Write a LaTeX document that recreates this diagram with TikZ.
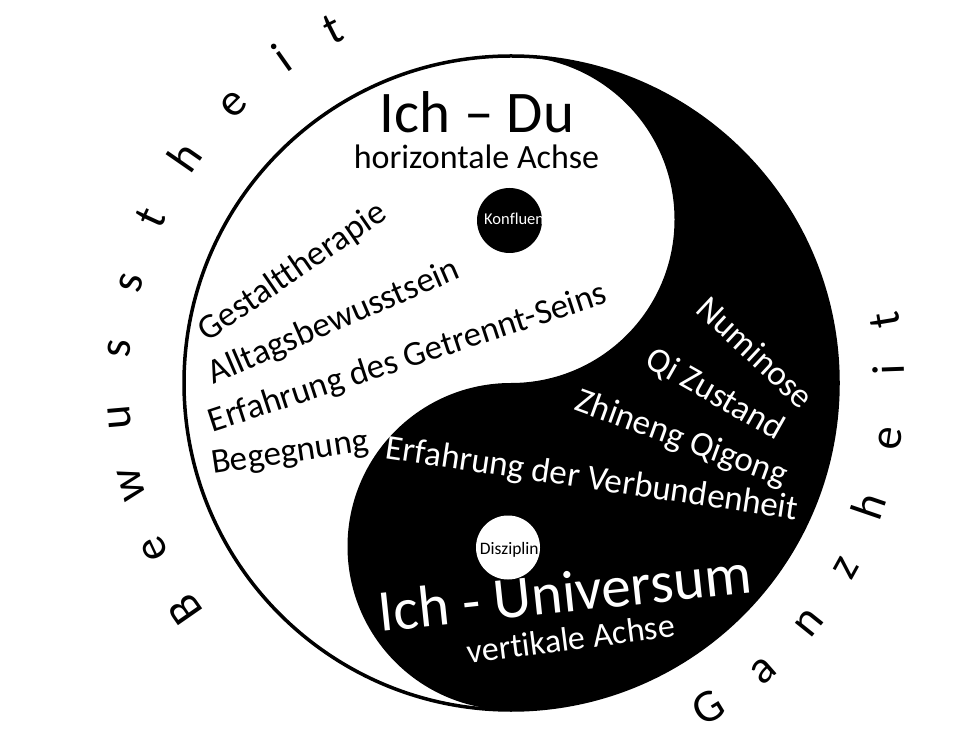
\documentclass[tikz,border=0pt]{standalone}
\usepackage{fontspec}
\setmainfont{Carlito}[Ligatures={NoCommon,TeX}]
\begin{document}
\begin{tikzpicture}[x=1pt,y=1pt,
  lbl/.style={anchor=base, inner sep=0pt, font=\fontsize{35}{42}\selectfont},
  wlbl/.style={lbl, text=white},
  big/.style={anchor=base, inner sep=0pt, font=\fontsize{59}{70}\selectfont},
  mid/.style={anchor=base, inner sep=0pt, font=\fontsize{34}{40}\selectfont},
  arcl/.style={anchor=base, inner sep=0pt, font=\fontsize{46}{55}\selectfont},
  tiny/.style={inner sep=0pt, font=\fontsize{16.5}{20}\selectfont}
]
\useasboundingbox (0,0) rectangle (960,750);
\fill[white] (0,0) rectangle (960,750);
\coordinate (C) at (511,367);
% yin-yang
\fill[black] (511,694) arc[start angle=90, end angle=-90, radius=327]
  arc[start angle=-90, end angle=-270, radius=163.5]
  arc[start angle=-90, end angle=90, radius=163.5] -- cycle;
\draw[line width=3.5pt] (C) circle[radius=327];
\fill[black] (509.5,529.5) circle[radius=32.5];
\fill[white] (508,202.5) circle[radius=32];
% dot labels
\node[tiny, anchor=base west, text=white] (konf) at (484,525) {Konfluen};
\node[tiny, anchor=base, font=\fontsize{17.5}{21}\selectfont] (disz) at (509.3,196) {Disziplin};
% upper (white) region
\node[big] (ichdu) at (477,617) {Ich – Du};
\node[mid] (hor) at (476.5,581) {horizontale Achse};
\node[lbl, rotate=34.6] (gest) at (298,470) {Gestalttherapie};
\node[lbl, rotate=23.3] (allt) at (337.5,419) {Alltagsbewusstsein};
\node[lbl, rotate=18.1] (getr) at (410.9,382.6) {Erfahrung des Getrennt-Seins};
\node[lbl, rotate=8.5] (beg) at (291.3,287.7) {Begegnung};
% lower (black) region
\node[wlbl, rotate=-8.5] (verb) at (590.5,261) {Erfahrung der Verbundenheit};
\node[wlbl, rotate=-20] (zhi) at (678,302) {Zhineng Qigong};
\node[wlbl, rotate=-29.5] (qi) at (710,347) {Qi Zustand};
\node[wlbl, rotate=-43] (num) at (747.7,389) {Numinose};
\node[big, text=white, rotate=6] (ichu) at (567,138) {Ich - Universum};
\node[mid, text=white, rotate=7.3] (vert) at (572.3,100) {vertikale Achse};
% arc texts
\foreach \ch/\a [count=\i] in {B/214.8, e/204.9, w/195, u/185, s/175, s/165.2, t/155.3, h/145.3, e/134.8, i/125.2, t/116.7}
  \node[arcl, rotate=\a-90] (bw\i) at ([shift={(C)}]\a:382) {\ch};
\foreach \ch/\a [count=\i] in {G/-58.7, a/-48.8, n/-38.8, z/-29, h/-18.9, e/-8.4, i/2, t/9.5}
  \node[arcl, rotate=\a+90] (gz\i) at ([shift={(C)}]\a:394) {\ch};
\end{tikzpicture}
\end{document}
